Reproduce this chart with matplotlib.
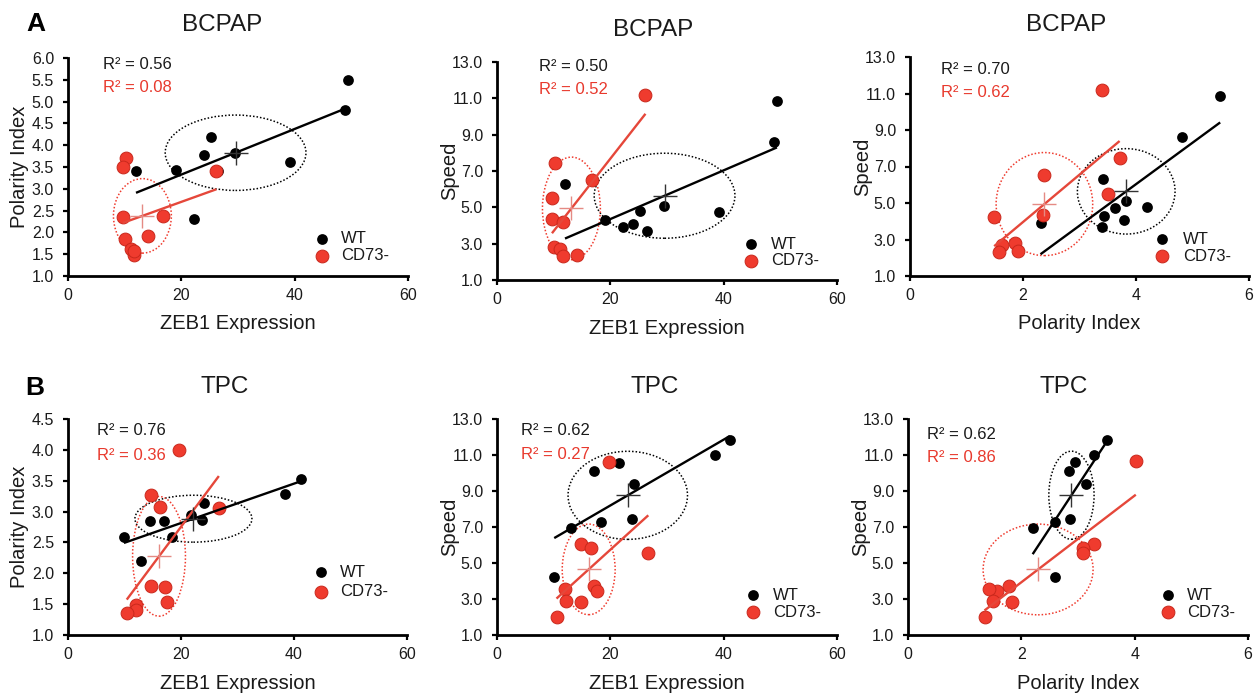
import numpy as np
import matplotlib
matplotlib.use('Agg')
import matplotlib.pyplot as plt
from matplotlib.patches import Ellipse
from matplotlib.ticker import FormatStrFormatter

plt.rcParams['font.family'] = ['Liberation Sans', 'DejaVu Sans']

# ---------------- data ----------------
# BCPAP (per sample: ZEB1 expression, polarity index, speed)
bcpap_wt_zeb1 = [49.4, 48.8, 12.0, 19.0, 26.5, 39.1, 29.5, 24.0, 25.2, 22.2]
bcpap_wt_polarity = [5.49, 4.81, 3.41, 3.43, 3.40, 3.62, 3.83, 3.78, 4.19, 2.31]
bcpap_wt_speed = [10.85, 8.62, 6.29, 4.30, 3.71, 4.75, 5.10, 4.06, 4.80, 3.90]
bcpap_cd73_zeb1 = [26.2, 10.3, 16.8, 9.7, 9.7, 11.6, 10.1, 11.1, 11.6, 14.2]
bcpap_cd73_polarity = [3.40, 3.71, 2.37, 3.50, 2.36, 1.49, 1.85, 1.62, 1.58, 1.91]
bcpap_cd73_speed = [11.17, 7.45, 6.52, 5.49, 4.34, 4.22, 2.82, 2.70, 2.33, 2.37]

# TPC (per panel)
tpc1_wt_zeb1 = [41.2, 38.4, 24.1, 23.7, 21.7, 17.0, 14.6, 18.4, 9.9, 13.0]
tpc1_wt_polarity = [3.535, 3.28, 3.14, 2.87, 2.95, 2.85, 2.85, 2.59, 2.58, 2.20]
tpc1_cd73_zeb1 = [19.6, 14.7, 16.3, 26.7, 14.7, 17.1, 17.5, 12.0, 12.1, 10.4]
tpc1_cd73_polarity = [4.00, 3.27, 3.07, 3.06, 1.80, 1.77, 1.53, 1.48, 1.41, 1.36]

tpc2_wt_zeb1 = [41.1, 38.4, 21.6, 17.1, 24.1, 18.4, 23.8, 13.1, 10.1]
tpc2_wt_speed = [11.82, 11.02, 10.58, 10.12, 9.38, 7.29, 7.45, 6.97, 4.20]
tpc2_cd73_zeb1 = [19.7, 14.8, 16.5, 26.7, 17.1, 17.6, 12.0, 12.1, 14.8, 10.5]
tpc2_cd73_speed = [10.63, 6.03, 5.83, 5.57, 3.74, 3.42, 3.53, 2.90, 2.81, 2.00]

tpc3_wt_polarity = [3.52, 3.28, 2.95, 2.84, 3.14, 2.85, 2.59, 2.20, 2.59]
tpc3_wt_speed = [11.82, 11.02, 10.60, 10.12, 9.38, 7.47, 7.30, 6.97, 4.20]
tpc3_cd73_polarity = [4.02, 3.29, 3.09, 3.08, 1.79, 1.57, 1.43, 1.50, 1.84, 1.35]
tpc3_cd73_speed = [10.65, 6.03, 5.81, 5.55, 3.70, 3.44, 3.53, 2.90, 2.81, 2.00]

r2_wt = ['R² = 0.56', 'R² = 0.50', 'R² = 0.70', 'R² = 0.76', 'R² = 0.62', 'R² = 0.62']
r2_cd73 = ['R² = 0.08', 'R² = 0.52', 'R² = 0.62', 'R² = 0.36', 'R² = 0.27', 'R² = 0.86']
titles = ['BCPAP', 'BCPAP', 'BCPAP', 'TPC', 'TPC', 'TPC']
xlabels = ['ZEB1 Expression', 'ZEB1 Expression', 'Polarity Index',
           'ZEB1 Expression', 'ZEB1 Expression', 'Polarity Index']
ylabels = ['Polarity Index', 'Speed', 'Speed', 'Polarity Index', 'Speed', 'Speed']
legend_labels = ['WT', 'CD73-']

# ---------------- style ----------------
BLACK = '#000000'
RED_FACE = '#EF3B2E'
RED_EDGE = '#C9281C'
RED_LINE = '#E5473A'
WT_CROSS = '#333333'
RED_CROSS = '#E58A84'
S_WT = 60
S_CD = 85

fig = plt.figure(figsize=(12.6, 6.94), dpi=100)
W, H = 1260.0, 694.0


def rect(l, t, r, b):
    return [l / W, 1 - b / H, (r - l) / W, (b - t) / H]


boxes = [(68, 58, 408, 276), (497, 62, 837, 280), (910, 57, 1249, 276),
         (68, 419, 407, 635), (497, 419, 837, 635), (908, 419, 1248, 635)]

panels = [
    (bcpap_wt_zeb1, bcpap_wt_polarity, bcpap_cd73_zeb1, bcpap_cd73_polarity,
     (0, 60), [0, 20, 40, 60], (1.0, 6.0), np.arange(1.0, 6.01, 0.5)),
    (bcpap_wt_zeb1, bcpap_wt_speed, bcpap_cd73_zeb1, bcpap_cd73_speed,
     (0, 60), [0, 20, 40, 60], (1.0, 13.0), np.arange(1.0, 13.01, 2.0)),
    (bcpap_wt_polarity, bcpap_wt_speed, bcpap_cd73_polarity, bcpap_cd73_speed,
     (0, 6), [0, 2, 4, 6], (1.0, 13.0), np.arange(1.0, 13.01, 2.0)),
    (tpc1_wt_zeb1, tpc1_wt_polarity, tpc1_cd73_zeb1, tpc1_cd73_polarity,
     (0, 60), [0, 20, 40, 60], (1.0, 4.5), np.arange(1.0, 4.51, 0.5)),
    (tpc2_wt_zeb1, tpc2_wt_speed, tpc2_cd73_zeb1, tpc2_cd73_speed,
     (0, 60), [0, 20, 40, 60], (1.0, 13.0), np.arange(1.0, 13.01, 2.0)),
    (tpc3_wt_polarity, tpc3_wt_speed, tpc3_cd73_polarity, tpc3_cd73_speed,
     (0, 6), [0, 2, 4, 6], (1.0, 13.0), np.arange(1.0, 13.01, 2.0)),
]

# text placements (axes fraction)
r2_pos = [(0.103, 0.972, 0.864), (0.124, 0.978, 0.872), (0.091, 0.944, 0.837),
          (0.086, 0.949, 0.830), (0.071, 0.949, 0.837), (0.055, 0.926, 0.823)]
leg_pos = [(0.747, 0.803, 0.170, 0.092), (0.747, 0.806, 0.164, 0.089),
           (0.744, 0.806, 0.168, 0.091), (0.745, 0.802, 0.290, 0.200),
           (0.754, 0.813, 0.185, 0.105), (0.764, 0.821, 0.185, 0.105)]
title_pos = [(0.454, 1.151), (0.460, 1.147), (0.460, 1.146),
             (0.463, 1.148), (0.464, 1.148), (0.459, 1.148)]
ylab_x = [-0.144, -0.138, -0.140, -0.142, -0.138, -0.139]
xlab_y = [-0.220, -0.222, -0.216, -0.224, -0.224, -0.224]

for i, (box, pdat) in enumerate(zip(boxes, panels)):
    wx, wy, cx, cy, xlim, xticks, ylim, yticks = pdat
    ax = fig.add_axes(rect(*box))
    ax.set_xlim(*xlim)
    ax.set_ylim(*ylim)
    ax.set_xticks(xticks)
    ax.set_yticks(yticks)
    ax.yaxis.set_major_formatter(FormatStrFormatter('%.1f'))
    for s in ['top', 'right']:
        ax.spines[s].set_visible(False)
    for s in ['left', 'bottom']:
        ax.spines[s].set_linewidth(2.0)
    ax.tick_params(direction='out', length=3.5, width=1.6, labelsize=11.5,
                   labelcolor='#1a1a1a')
    ax.tick_params(axis='y', pad=6.5)
    ax.tick_params(axis='x', pad=5)

    ax.scatter(wx, wy, s=S_WT, c=BLACK, linewidths=0, zorder=3, clip_on=False)
    ax.scatter(cx, cy, s=S_CD, c=RED_FACE, edgecolors=RED_EDGE, linewidths=0.7,
               zorder=4, clip_on=False)

    for xs, ys, lc, ec, cc in [(wx, wy, BLACK, BLACK, WT_CROSS),
                               (cx, cy, RED_LINE, RED_FACE, RED_CROSS)]:
        xs = np.asarray(xs, float)
        ys = np.asarray(ys, float)
        slope, icpt = np.polyfit(xs, ys, 1)
        xe = np.array([xs.min(), xs.max()])
        ax.plot(xe, slope * xe + icpt, color=lc, lw=1.7, zorder=5,
                solid_capstyle='butt')
        mx, my = xs.mean(), ys.mean()
        sx, sy = xs.std(ddof=1), ys.std(ddof=1)
        ax.add_patch(Ellipse((mx, my), 2 * sx, 2 * sy, fill=False, ec=ec,
                             lw=1.1, ls=(0, (1, 1.3)), zorder=2))
        ax.plot([mx], [my], marker='+', ms=17, mew=1.0, color=cc, zorder=6)

    # R² annotations
    rx, ry1, ry2 = r2_pos[i]
    ax.text(rx, ry1, r2_wt[i], transform=ax.transAxes, fontsize=12,
            color='#1a1a1a', ha='left', va='center')
    ax.text(rx, ry2, r2_cd73[i], transform=ax.transAxes, fontsize=12,
            color='#E8392D', ha='left', va='center')

    # legend
    mx_, tx_, y1, y2 = leg_pos[i]
    ax.scatter([mx_], [y1], s=S_WT, c=BLACK, linewidths=0,
               transform=ax.transAxes, clip_on=False, zorder=7)
    ax.scatter([mx_], [y2], s=S_CD, c=RED_FACE, edgecolors=RED_EDGE,
               linewidths=0.7, transform=ax.transAxes, clip_on=False, zorder=7)
    ax.text(tx_, y1, legend_labels[0], transform=ax.transAxes, fontsize=12,
            ha='left', va='center', color='#1a1a1a')
    ax.text(tx_, y2, legend_labels[1], transform=ax.transAxes, fontsize=12,
            ha='left', va='center', color='#1a1a1a')

    # titles and axis labels
    tx, ty = title_pos[i]
    ax.text(tx, ty, titles[i], transform=ax.transAxes, fontsize=17.5,
            ha='center', va='center', color='#1a1a1a')
    ax.set_xlabel(xlabels[i], fontsize=14.5, color='#1a1a1a')
    ax.set_ylabel(ylabels[i], fontsize=14.5, color='#1a1a1a')
    ax.xaxis.set_label_coords(0.5, xlab_y[i])
    ax.yaxis.set_label_coords(ylab_x[i], 0.5)
    ax.xaxis.label.set_va('center')
    ax.yaxis.label.set_va('center')

fig.text(36 / W, 1 - 24 / H, 'A', fontsize=19, fontweight='bold',
         ha='center', va='center')
fig.text(35 / W, 1 - 388 / H, 'B', fontsize=19, fontweight='bold',
         ha='center', va='center')

fig.savefig('out.png', dpi=100)
